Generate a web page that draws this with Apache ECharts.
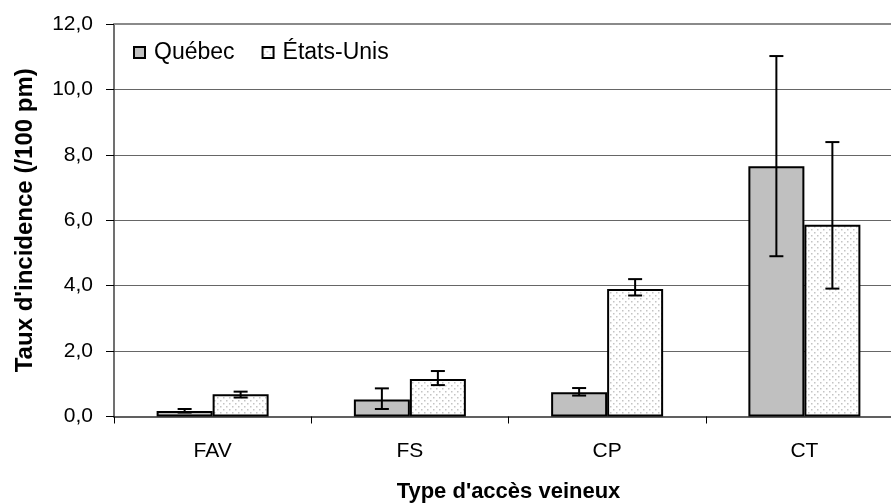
<!DOCTYPE html>
<html><head><meta charset="utf-8">
<script src="https://cdn.jsdelivr.net/npm/echarts@6/dist/echarts.min.js"></script>
<style>html,body{margin:0;padding:0;background:#fff}#c{width:891px;height:503px}</style>
</head><body><div id="c"></div>
<script>
const categories = ['FAV', 'FS', 'CP', 'CT'];
const quebec = [0.17, 0.52, 0.74, 7.65];
const quebecLow = [0.12, 0.23, 0.64, 4.9];
const quebecHigh = [0.23, 0.86, 0.87, 11.02];
const usa = [0.68, 1.15, 3.90, 5.86];
const usaLow = [0.58, 0.96, 3.70, 3.91];
const usaHigh = [0.76, 1.39, 4.20, 8.39];
const yTicks = [0, 2, 4, 6, 8, 10, 12];

const tile = document.createElement('canvas');
tile.width = 6; tile.height = 6;
const tc = tile.getContext('2d');
tc.fillStyle = '#ffffff'; tc.fillRect(0, 0, 6, 6);
tc.fillStyle = '#c4c4c4';
tc.fillRect(1, 1, 1.5, 1.5);
tc.fillRect(4, 4, 1.5, 1.5);

const font = 'Liberation Sans, Arial, sans-serif';
const BW = 56;

function errSeries(low, high, offset) {
  return {
    type: 'custom',
    silent: true,
    z: 5,
    data: categories.map((c, i) => [i, low[i], high[i]]),
    renderItem: function (params, api) {
      const i = api.value(0);
      const lo = api.coord([i, api.value(1)]);
      const hi = api.coord([i, api.value(2)]);
      const x = lo[0] + offset;
      const cap = 7;
      const st = { stroke: '#000', lineWidth: 2 };
      return {
        type: 'group',
        children: [
          { type: 'line', shape: { x1: x, y1: lo[1], x2: x, y2: hi[1] }, style: st },
          { type: 'line', shape: { x1: x - cap, y1: lo[1], x2: x + cap, y2: lo[1] }, style: st },
          { type: 'line', shape: { x1: x - cap, y1: hi[1], x2: x + cap, y2: hi[1] }, style: st }
        ]
      };
    }
  };
}

const chart = echarts.init(document.getElementById('c'));
chart.setOption({
  animation: false,
  textStyle: { fontFamily: font },
  grid: { left: 114, right: -12, top: 24, bottom: 86.5, containLabel: false, outerBoundsMode: 'none' },
  legend: {
    left: 128, top: 36, itemWidth: 11, itemHeight: 11, itemGap: 27,
    icon: 'rect',
    textStyle: { fontSize: 23, color: '#000', fontFamily: font, padding: [0, 0, 0, 4] },
    data: ['Québec', 'États-Unis']
  },
  xAxis: [{
    type: 'category',
    data: categories,
    name: "Type d'accès veineux",
    nameLocation: 'middle',
    nameGap: 64,
    nameTextStyle: { fontSize: 22, fontWeight: 'bold', color: '#000', fontFamily: font },
    axisLine: { lineStyle: { color: '#606060', width: 2 } },
    axisTick: { show: true, length: 7, lineStyle: { color: '#000', width: 1 } },
    axisLabel: { fontSize: 21, color: '#000', margin: 24, fontFamily: font }
  }, {
    type: 'category',
    data: categories,
    position: 'top',
    axisLine: { show: true, lineStyle: { color: '#8a8a8a', width: 2 } },
    axisTick: { show: false },
    axisLabel: { show: false }
  }],
  yAxis: {
    type: 'value',
    min: 0, max: 12, interval: 2,
    name: "Taux d'incidence (/100 pm)",
    nameLocation: 'middle',
    nameGap: 77,
    nameTextStyle: { fontSize: 24, fontWeight: 'bold', color: '#000', fontFamily: font },
    axisLine: { show: true, lineStyle: { color: '#404040', width: 1.5 } },
    axisTick: { show: true, length: 8, lineStyle: { color: '#000', width: 1 } },
    axisLabel: {
      fontSize: 21, color: '#000', margin: 21, fontFamily: font,
      formatter: v => yTicks.indexOf(v) >= 0 ? v.toFixed(1).replace('.', ',') : ''
    },
    splitLine: { show: true, lineStyle: { color: '#666666', width: 1 } }
  },
  series: [
    {
      name: 'Québec', type: 'bar', data: quebec, barWidth: BW, barGap: '0%',
      itemStyle: { color: '#c0c0c0', borderColor: '#000', borderWidth: 2 }
    },
    {
      name: 'États-Unis', type: 'bar', data: usa, barWidth: BW, barGap: '0%',
      itemStyle: { color: { image: tile, repeat: 'repeat' }, borderColor: '#000', borderWidth: 2 }
    },
    errSeries(quebecLow, quebecHigh, -BW / 2),
    errSeries(usaLow, usaHigh, BW / 2)
  ]
});
</script>
</body></html>
